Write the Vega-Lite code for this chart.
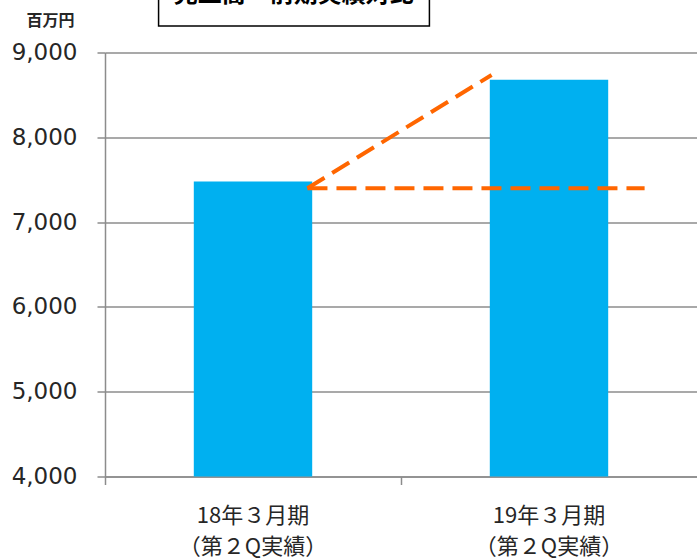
{
  "$schema": "https://vega.github.io/schema/vega-lite/v6.json",
  "autosize": "none",
  "width": 592,
  "height": 424,
  "padding": {"left": 105, "top": 52.5, "right": 0, "bottom": 83.5},
  "background": "white",
  "config": {
    "view": {"stroke": null},
    "axis": {"domainColor": "#8C8C8C", "tickColor": "#8C8C8C", "gridColor": "#8C8C8C", "domainWidth": 1.5, "tickWidth": 1.5, "gridWidth": 1.5}
  },
  "datasets": {
    "bars": [
      {"period": "18年３月期（第２Q実績）", "sales": 7480},
      {"period": "19年３月期（第２Q実績）", "sales": 8680}
    ],
    "dash": [
      {"seg": "flat", "pos": 0.684, "value": 7400},
      {"seg": "flat", "pos": 1.823, "value": 7400},
      {"seg": "rise", "pos": 0.684, "value": 7400},
      {"seg": "rise", "pos": 1.306, "value": 8735}
    ],
    "titlebox": [
      {"x0": 0.181, "x1": 1.096, "y0": 9312, "y1": 10200, "label": "売上高　前期実績対比", "xc": 0.638, "yc": 9540}
    ]
  },
  "layer": [
    {
      "data": {"name": "bars"},
      "mark": {"type": "bar", "color": "#00B0F0", "clip": true, "width": {"band": 0.4}},
      "encoding": {
        "x": {
          "field": "period", "type": "nominal", "sort": null,
          "scale": {"paddingInner": 0, "paddingOuter": 0},
          "axis": {
            "title": null, "labelAngle": 0, "bandPosition": 0, "tickSize": 8,
            "labelPadding": 21, "labelBaseline": "top", "labelFont": "Noto Sans CJK JP",
            "labelFontSize": 22, "labelColor": "#262626", "labelLineHeight": 31,
            "labelExpr": "[slice(datum.label, 0, indexof(datum.label, '（')), slice(datum.label, indexof(datum.label, '（'))]"
          }
        },
        "y": {
          "field": "sales", "type": "quantitative",
          "scale": {"domain": [4000, 9000], "nice": false, "zero": false},
          "axis": {
            "values": [4000, 5000, 6000, 7000, 8000, 9000], "format": ",d",
            "tickSize": 8, "labelPadding": 20, "labelFont": "DejaVu Sans", "labelFontSize": 23,
            "labelColor": "#262626", "grid": true,
            "title": "百万円", "titleAngle": 0, "titleAlign": "center", "titleBaseline": "top",
            "titleX": -55, "titleY": -40, "titleFont": "Noto Sans CJK JP", "titleFontSize": 16,
            "titleFontWeight": "bold", "titleColor": "#262626"
          }
        }
      }
    },
    {
      "data": {"name": "dash"},
      "mark": {"type": "line", "color": "#FF6600", "strokeWidth": 4, "strokeDash": [20, 9], "clip": false},
      "encoding": {
        "x": {"field": "pos", "type": "quantitative", "scale": {"domain": [0, 2], "nice": false, "zero": false}, "axis": null},
        "y": {"field": "value", "type": "quantitative"},
        "detail": {"field": "seg"}
      }
    },
    {
      "data": {"name": "titlebox"},
      "mark": {"type": "rect", "fill": "white", "stroke": "black", "strokeWidth": 1.5, "clip": false},
      "encoding": {
        "x": {"field": "x0", "type": "quantitative", "scale": {"domain": [0, 2], "nice": false, "zero": false}, "axis": null},
        "x2": {"field": "x1"},
        "y": {"field": "y0", "type": "quantitative"},
        "y2": {"field": "y1"}
      }
    },
    {
      "data": {"name": "titlebox"},
      "mark": {"type": "text", "font": "Noto Sans CJK JP", "fontSize": 24, "fontWeight": "bold", "baseline": "bottom", "align": "center", "color": "black", "clip": false},
      "encoding": {
        "x": {"field": "xc", "type": "quantitative", "scale": {"domain": [0, 2], "nice": false, "zero": false}, "axis": null},
        "y": {"field": "yc", "type": "quantitative"},
        "text": {"field": "label"}
      }
    }
  ],
  "resolve": {"scale": {"x": "independent"}, "axis": {"x": "independent"}}
}
